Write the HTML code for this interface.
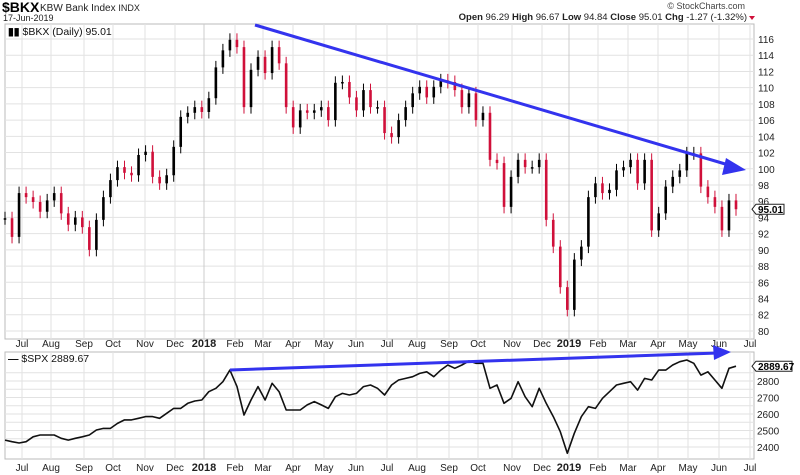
<!DOCTYPE html>
<html><head><meta charset="utf-8">
<style>
body{margin:0;background:#fff;}
svg{display:block;font-family:"Liberation Sans",Arial,sans-serif;}
</style></head>
<body>
<svg id="chart" width="800" height="475" viewBox="0 0 800 475">
<g>
<text x="2" y="12" font-size="14" font-weight="bold" fill="#000">$BKX</text>
<text x="40" y="11" font-size="10" fill="#222">KBW Bank Index  <tspan font-size="9">INDX</tspan></text>
<text x="3" y="21" font-size="9" fill="#222">17-Jun-2019</text>
<text x="745" y="9" font-size="9" fill="#444" text-anchor="end">© StockCharts.com</text>
<text x="747" y="20" font-size="9.5" text-anchor="end" fill="#222"><tspan font-weight="bold">Open</tspan> 96.29  <tspan font-weight="bold">High</tspan> 96.67  <tspan font-weight="bold">Low</tspan> 94.84  <tspan font-weight="bold">Close</tspan> 95.01  <tspan font-weight="bold">Chg</tspan> -1.27 (-1.32%)</text>
<path d="M749 16 L755 16 L752 20 Z" fill="#d0103a"/>
</g>
<rect x="5" y="24" width="749" height="315" fill="#fff" stroke="#bbb"/>
<rect x="5" y="352" width="749" height="107" fill="#fff" stroke="#bbb"/>
<g id="grid"></g>
<g id="marks"></g>
<text x="8" y="35" font-size="10.5" fill="#111"><tspan fill="#000" font-weight="bold">▮▮</tspan> $BKX (Daily) 95.01</text>
<text x="8" y="362" font-size="10.5" fill="#111"><tspan font-weight="bold">—</tspan> $SPX 2889.67</text>
<g id="overlay"></g>
</svg>
<script>
const monthLabels=["Jul","Aug","Sep","Oct","Nov","Dec","2018","Feb","Mar","Apr","May","Jun","Jul","Aug","Sep","Oct","Nov","Dec","2019","Feb","Mar","Apr","May","Jun","Jul"];
const monthX=[22,51,84,113,145,175,204,235,263,293,324,356,387,417,449,478,512,542,569,598,628,658,688,719,750];
const bkxTicks=[116,114,112,110,108,106,104,102,100,98,96,94,92,90,88,86,84,82,80];
const spxTicks=[2800,2700,2600,2500,2400];
const bkxClose=[93.9,91.6,97,96.5,95.9,94.7,96.1,97,94.5,93.1,94,92.8,90,93.7,96.5,98.6,100.2,99.5,99.2,101.7,102.1,99,98.2,99.2,102.7,106.4,106.9,107.6,107,108.7,112.5,114.6,115.9,115,107.6,112.2,
113.8,111.8,115,113,107.6,105.1,107.2,106.9,107.2,107.6,106,110.6,110.7,108.8,107.2,109.7,107.6,107.6,104.4,103.9,106,107.6,109.3,110.1,108.8,110.1,110.9,110.7,109.7,107.6,109.3,106,106.9,101.1,100.7,95.3,
99,101.1,100.2,100.2,101.1,93.7,90.4,85.4,82.6,88.8,90.4,96.5,98.2,97,97.4,99.8,100.2,101.1,98.2,101.1,92.4,94.5,97.8,99,99.8,101.9,101.9,97.8,96.5,95.3,92.4,96.1,95.01];
const spxClose=[2442,2432,2424,2432,2462,2473,2473,2473,2453,2442,2453,2462,2473,2503,2513,2513,2543,2564,2564,2574,2584,2584,2574,2604,2634,2634,2665,2679,2685,2735,2756,2796,2866,2766,2594,2685,
2766,2685,2786,2735,2624,2624,2624,2655,2675,2655,2634,2705,2725,2715,2725,2766,2776,2756,2715,2776,2806,2816,2826,2846,2856,2826,2866,2897,2877,2897,2921,2907,2907,2756,2776,2665,
2695,2796,2705,2644,2756,2665,2584,2493,2362,2483,2584,2644,2634,2695,2735,2776,2786,2796,2745,2816,2806,2866,2866,2897,2917,2927,2907,2836,2856,2806,2756,2877,2889.67];
const NS="http://www.w3.org/2000/svg";
function el(tag,attrs,parent){const e=document.createElementNS(NS,tag);for(const k in attrs)e.setAttribute(k,attrs[k]);parent.appendChild(e);return e;}
const X0=5,X1=736;
function xIdx(i,n){return X0+(X1-X0)*i/(n-1);}
function yB(v){return 39+(116-v)*8.11;}
function yS(v){return 381+(2800-v)*0.165;}
const grid=document.getElementById('grid'),marks=document.getElementById('marks'),ov=document.getElementById('overlay');
bkxTicks.forEach(t=>{
 const l=el('line',{x1:5,x2:754,y1:yB(t),y2:yB(t),stroke:'#e2e2e2'},grid);
 
 
 const tx=el('text',{x:758,y:yB(t)+4,'font-size':10,fill:'#222'},grid);tx.textContent=t;
 
 
});
[2850,2800,2750,2700,2650,2600,2550,2500,2450,2400].forEach(t=>{
 const l=el('line',{x1:5,x2:754,y1:yS(t),y2:yS(t),stroke:'#e2e2e2'},grid);
 
 
});
spxTicks.forEach(t=>{
 const tx=el('text',{x:757,y:yS(t)+4,'font-size':10,fill:'#222'},grid);tx.textContent=t;
 
 
});
monthLabels.forEach((m,i)=>{
 const x=monthX[i];const yr=/^\d/.test(m);
 const c=yr?'#ccc':'#e2e2e2';
 let l=el('line',{x1:x,x2:x,y1:24,y2:339,stroke:c},grid);
 
 
 l=el('line',{x1:x,x2:x,y1:352,y2:459,stroke:c},grid);
 
 
 [347,471].forEach(yy=>{
  const t=el('text',{x:x,y:yy,'font-size':yr?11:10,'font-weight':yr?'bold':'normal','text-anchor':'middle',fill:'#222'},grid);
  t.textContent=m;
  
  
 });
});
const n=bkxClose.length;
for(let i=0;i<n;i++){
 const c=bkxClose[i],p=i?bkxClose[i-1]:c;
 const x=xIdx(i,n);const up=c>=p;const col=up?'#000':'#d0103a';
 const hi=Math.max(c,p)+0.8,lo=Math.min(c,p)-0.8;
 const w=el('line',{x1:x,x2:x,y1:yB(hi),y2:yB(lo),stroke:col,'stroke-width':1},marks);
 
 
 const r=el('rect',{x:x-1.3,y:yB(Math.max(c,p)),width:2.6,height:Math.max(1.5,Math.abs(yB(c)-yB(p))),fill:col},marks);
 
 
}
const m=spxClose.length;
const pts=spxClose.map((v,i)=>xIdx(i,m).toFixed(1)+','+yS(v).toFixed(1)).join(' ');
const pl=el('polyline',{points:pts,fill:'none',stroke:'#111','stroke-width':1.6,'stroke-linejoin':'round'},marks);


let t1=el('line',{x1:255,y1:25,x2:732,y2:166,stroke:'#3333ee','stroke-width':3},ov);


let a1=el('path',{d:'M746 170 L726 158 L722 175 Z',fill:'#3333ee'},ov);


let t2=el('line',{x1:230,y1:370,x2:718,y2:353,stroke:'#3333ee','stroke-width':3},ov);


let a2=el('path',{d:'M731 352 L713 345 L714 360 Z',fill:'#3333ee'},ov);


function tag(y,txt,x0,w,name){
 const g=el('g',{},ov);
 
 
 el('path',{d:`M${x0-4} ${y} L${x0} ${y-5} L${x0+w} ${y-5} L${x0+w} ${y+5} L${x0} ${y+5} Z`,fill:'#fff',stroke:'#222'},g);
 const t=el('text',{x:x0+2,y:y+4,'font-size':10,'font-weight':'bold',fill:'#000'},g);t.textContent=txt;
}
tag(yB(95.01),'95.01',756,28,'bkx-last-price-tag');
tag(yS(2889.67),'2889.67',756,36,'spx-last-price-tag');
</script>
</body></html>
